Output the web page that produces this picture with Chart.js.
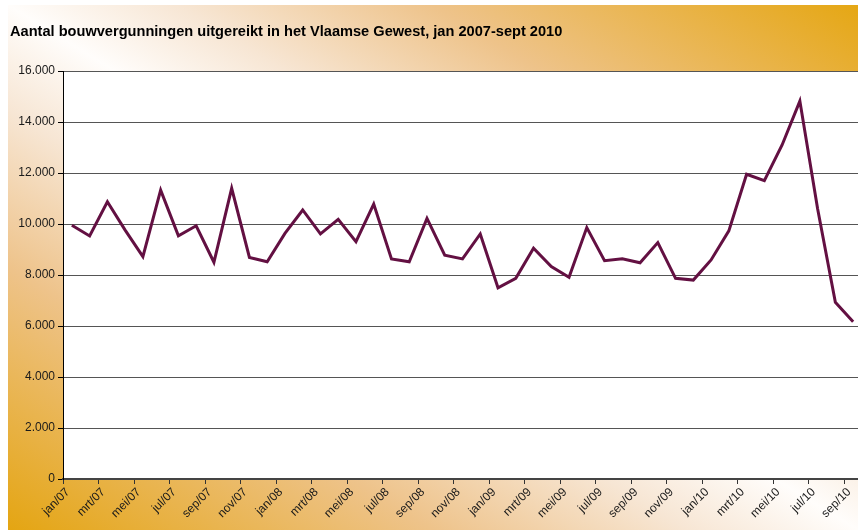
<!DOCTYPE html>
<html>
<head>
<meta charset="utf-8">
<script src="https://cdn.jsdelivr.net/npm/chart.js@4/dist/chart.umd.min.js"></script>
<style>
  html, body { margin: 0; padding: 0; background: #fff; overflow: hidden; width: 858px; height: 530px; }
  #bg {
    position: absolute; left: 8px; top: 5px; width: 850px; height: 525px;
    background: linear-gradient(to top right, #e4a512 0%, #eec38a 25%, #f7e6d4 40%, #fffdfb 50%, #f7e6d4 60%, #eec38a 75%, #e5a714 100%);
  }
  #chart { position: absolute; left: 0; top: 0; }
</style>
</head>
<body>
<div id="bg"></div>
<canvas id="chart" width="870" height="530"></canvas>
<script>
// Maanden en jaren (jan/07 - sep/10)
const maanden = ['jan', 'feb', 'mrt', 'apr', 'mei', 'jun', 'jul', 'aug', 'sep', 'okt', 'nov', 'dec'];
const jaren = ['07', '08', '09', '10'];
const aantalMaanden = 45;

// Aantal bouwvergunningen per maand
const vergunningen = [
    9950, 9530, 10870, 9760, 8720, 11330, 9540, 9930, 8500, 11400, 8690, 8520,
    9630, 10550, 9610, 10180, 9310, 10780, 8630, 8520, 10220, 8780, 8630, 9610,
    7500, 7870, 9050, 8330, 7910, 9860, 8560, 8640, 8480, 9270, 7870, 7800,
    8590, 9730, 11950, 11700, 13100, 14820, 10600, 6930, 6170
];

const yTicks = [0, 2000, 4000, 6000, 8000, 10000, 12000, 14000, 16000];
const titel = 'Aantal bouwvergunningen uitgereikt in het Vlaamse Gewest, jan 2007-sept 2010';

const labels = [];
for (let i = 0; i < aantalMaanden; i++) {
    labels.push(maanden[i % 12] + '/' + jaren[Math.floor(i / 12)]);
}

const fmt = v => v.toString().replace(/\B(?=(\d{3})+(?!\d))/g, '.');

// Witte plotzone en titel
const achtergrond = {
    id: 'achtergrond',
    beforeDraw(chart) {
        const { ctx, chartArea: a } = chart;
        ctx.save();
        ctx.fillStyle = '#fff';
        ctx.fillRect(a.left, a.top, a.right - a.left, a.bottom - a.top);
        ctx.fillStyle = '#000';
        ctx.font = 'bold 14.6px "Liberation Sans", Arial, sans-serif';
        ctx.textBaseline = 'alphabetic';
        ctx.fillText(titel, 10, 36);
        ctx.restore();
    }
};

const ctx = document.getElementById('chart').getContext('2d');
const chart = new Chart(ctx, {
    type: 'line',
    data: {
        labels: labels,
        datasets: [{
            data: vergunningen,
            borderColor: '#631042',
            borderWidth: 3,
            pointRadius: 0,
            tension: 0,
            fill: false
        }]
    },
    options: {
        responsive: false,
        animation: false,
        layout: { padding: { top: 71, right: 8, left: 0, bottom: 0 } },
        plugins: {
            legend: { display: false },
            tooltip: { enabled: false }
        },
        scales: {
            x: {
                offset: true,
                afterFit(s) { s.height = 51; },
                border: { color: '#444', width: 2 },
                grid: {
                    offset: true,
                    drawOnChartArea: false,
                    tickLength: 5,
                    tickColor: c => (c.index % 2 === 0 ? '#333' : 'rgba(0,0,0,0)')
                },
                ticks: {
                    autoSkip: false,
                    maxRotation: 45,
                    minRotation: 45,
                    padding: 1,
                    labelOffset: -4,
                    color: '#1a1a1a',
                    font: { family: '"Liberation Sans", Arial, sans-serif', size: 12 },
                    callback(v, i) { return i % 2 === 0 ? labels[i] : ''; }
                }
            },
            y: {
                min: 0,
                max: 16000,
                afterFit(s) { s.width = 63; },
                afterBuildTicks(s) { s.ticks = yTicks.map(v => ({ value: v })); },
                border: { color: '#000', width: 1 },
                grid: {
                    color: '#555',
                    lineWidth: 1,
                    tickLength: 5,
                    tickColor: '#000'
                },
                ticks: {
                    padding: 3,
                    color: '#1a1a1a',
                    font: { family: '"Liberation Sans", Arial, sans-serif', size: 12 },
                    callback: v => fmt(v)
                }
            }
        }
    },
    plugins: [achtergrond]
});
</script>
</body>
</html>
